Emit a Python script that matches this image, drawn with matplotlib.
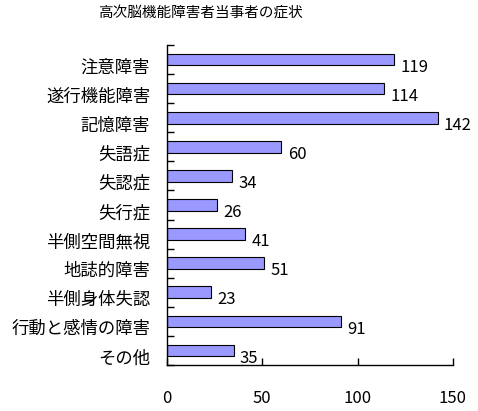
import matplotlib
matplotlib.use("Agg")
import matplotlib.pyplot as plt
import matplotlib.transforms as mtransforms
import numpy as np

plt.rcParams['font.family'] = ['Noto Sans CJK JP', 'DejaVu Sans']

title = "高次脳機能障害者当事者の症状"
categories = ["注意障害", "遂行機能障害", "記憶障害", "失語症", "失認症", "失行症",
              "半側空間無視", "地誌的障害", "半側身体失認", "行動と感情の障害", "その他"]
values = [119, 114, 142, 60, 34, 26, 41, 51, 23, 91, 35]
xticks = [0, 50, 100, 150]

fig = plt.figure(figsize=(4.78, 4.11), dpi=100)
ax = fig.add_axes([167/478, 1-365/411, (453-167)/478, (365-45)/411])

y = np.arange(len(categories))
ax.barh(y, values, height=0.4, color="#9999FF", edgecolor="black", linewidth=0.8)

ax.set_xlim(0, 150)
ax.set_ylim(len(categories)-0.5, -0.5)

for s in ("top", "right"):
    ax.spines[s].set_visible(False)
for s in ("left", "bottom"):
    ax.spines[s].set_linewidth(1.0)

ax.set_xticks(xticks)
ax.set_xticklabels([str(t) for t in xticks], fontsize=12)
ax.tick_params(axis="x", direction="in", length=5, width=1, pad=18)

ax.set_yticks(y)
ax.set_yticklabels(categories, fontsize=12.5)
ax.tick_params(axis="y", which="major", length=0, pad=12)
ax.set_yticks(np.arange(-0.5, len(categories), 1.0), minor=True)
ax.tick_params(axis="y", which="minor", direction="in", length=5, width=1)

off = mtransforms.ScaledTranslation(0, -6/100, fig.dpi_scale_trans)
for lab in ax.get_yticklabels():
    lab.set_transform(lab.get_transform() + off)

for i, v in enumerate(values):
    ax.annotate(str(v), xy=(v, i), xytext=(4.5, -5.5), textcoords="offset points",
                ha="left", va="center", fontsize=12)

fig.text(200/478, 1-14/411, title, ha="center", va="center", fontsize=10.5)

fig.savefig("out.png", dpi=100)
